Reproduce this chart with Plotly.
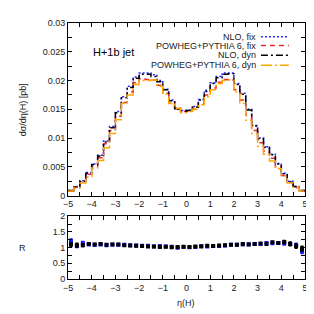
import plotly.graph_objects as go

# bin edges (0.25 wide) from -5 to 5
bin_lo = [-5.0 + 0.25 * i for i in range(40)]
bin_edges = bin_lo + [5.0]
bin_centers = [b + 0.125 for b in bin_lo]

nlo_fix = [0.0009, 0.0016, 0.0026, 0.0040, 0.0055, 0.0070, 0.0095, 0.0120, 0.0146, 0.0172,
           0.0190, 0.0206, 0.0213, 0.0213, 0.0210, 0.0200, 0.0185, 0.0166, 0.0152, 0.0148,
           0.0149, 0.0155, 0.0167, 0.0183, 0.0196, 0.0207, 0.0213, 0.0213, 0.0195, 0.0178,
           0.0150, 0.0122, 0.0100, 0.0085, 0.0072, 0.0056, 0.0039, 0.0025, 0.0016, 0.0009]
pow_fix = [0.0008, 0.0015, 0.0024, 0.0037, 0.0051, 0.0066, 0.0090, 0.0113, 0.0138, 0.0162,
           0.0180, 0.0196, 0.0203, 0.0202, 0.0201, 0.0192, 0.0178, 0.0161, 0.0150, 0.0146,
           0.0147, 0.0152, 0.0160, 0.0175, 0.0187, 0.0197, 0.0202, 0.0201, 0.0184, 0.0166,
           0.0140, 0.0113, 0.0092, 0.0077, 0.0065, 0.0050, 0.0035, 0.0022, 0.0014, 0.0008]
nlo_dyn = [0.0009, 0.0015, 0.0025, 0.0039, 0.0054, 0.0069, 0.0093, 0.0118, 0.0144, 0.0170,
           0.0188, 0.0204, 0.0211, 0.0211, 0.0207, 0.0198, 0.0184, 0.0165, 0.0151, 0.0147,
           0.0148, 0.0154, 0.0166, 0.0181, 0.0195, 0.0205, 0.0211, 0.0212, 0.0193, 0.0176,
           0.0149, 0.0121, 0.0099, 0.0084, 0.0071, 0.0055, 0.0038, 0.0024, 0.0016, 0.0009]
pow_dyn = [0.0008, 0.0013, 0.0022, 0.0033, 0.0048, 0.0061, 0.0083, 0.0108, 0.0132, 0.0160,
           0.0175, 0.0193, 0.0200, 0.0200, 0.0201, 0.0190, 0.0176, 0.0160, 0.0152, 0.0144,
           0.0146, 0.0150, 0.0158, 0.0172, 0.0184, 0.0195, 0.0200, 0.0201, 0.0180, 0.0160,
           0.0131, 0.0108, 0.0086, 0.0072, 0.0060, 0.0047, 0.0034, 0.0022, 0.0014, 0.0008]

ratio_fix = [1.22, 1.05, 1.15, 1.10, 1.09, 1.10, 1.08, 1.10, 1.09, 1.09,
             1.08, 1.07, 1.06, 1.06, 1.04, 1.05, 1.04, 1.03, 1.00, 1.02,
             1.01, 1.02, 1.05, 1.04, 1.05, 1.05, 1.07, 1.09, 1.09, 1.10,
             1.11, 1.12, 1.12, 1.15, 1.14, 1.15, 1.13, 1.12, 1.08, 0.88]
ratio_fix_err = [0.08, 0.07, 0.07, 0.05, 0.05, 0.04, 0.04, 0.04, 0.04, 0.04,
                 0.04, 0.04, 0.04, 0.04, 0.04, 0.04, 0.04, 0.04, 0.04, 0.04,
                 0.04, 0.04, 0.04, 0.04, 0.04, 0.04, 0.04, 0.04, 0.04, 0.04,
                 0.04, 0.04, 0.04, 0.05, 0.05, 0.06, 0.06, 0.07, 0.08, 0.09]
ratio_dyn = [1.10, 1.08, 1.08, 1.12, 1.10, 1.12, 1.09, 1.10, 1.10, 1.08,
             1.07, 1.06, 1.05, 1.04, 1.04, 1.02, 1.03, 1.01, 1.02, 1.03,
             1.02, 1.04, 1.04, 1.06, 1.05, 1.07, 1.08, 1.09, 1.09, 1.12,
             1.10, 1.12, 1.13, 1.12, 1.17, 1.15, 1.18, 1.12, 1.05, 0.97]
ratio_dyn_err = [0.09, 0.08, 0.07, 0.06, 0.05, 0.05, 0.05, 0.04, 0.04, 0.04,
                 0.04, 0.04, 0.04, 0.04, 0.04, 0.04, 0.04, 0.04, 0.04, 0.04,
                 0.04, 0.04, 0.04, 0.04, 0.04, 0.04, 0.04, 0.04, 0.04, 0.04,
                 0.04, 0.04, 0.05, 0.05, 0.05, 0.06, 0.07, 0.08, 0.09, 0.10]

series_names = ["NLO, fix", "POWHEG+PYTHIA 6, fix", "NLO, dyn", "POWHEG+PYTHIA 6, dyn"]
series_vals = [nlo_fix, pow_fix, nlo_dyn, pow_dyn]
colors = ["#2a2aff", "#ee2a2a", "#000000", "#ffa500"]
dashes = ["2px,2px", "5px,4px", "7px,3px,2px,3px", "11px,3px,2px,3px"]

FONT = "Liberation Sans, Arial, sans-serif"
fig = go.Figure()

for name, vals, c, d in zip(series_names, series_vals, colors, dashes):
    fig.add_trace(go.Scatter(x=bin_edges, y=vals + [vals[-1]], mode="lines",
                             line=dict(color=c, width=1.5, dash=d, shape="hv"),
                             name=name, showlegend=False, xaxis="x", yaxis="y"))

fig.add_trace(go.Scatter(x=bin_centers, y=ratio_fix, mode="markers",
                         marker=dict(symbol="square", size=4, color="#1a1aff"),
                         error_y=dict(type="data", array=ratio_fix_err, color="#1a1aff",
                                      thickness=3, width=0),
                         showlegend=False, xaxis="x2", yaxis="y2"))
fig.add_trace(go.Scatter(x=bin_centers, y=ratio_dyn, mode="markers",
                         marker=dict(symbol="square", size=4, color="#000000"),
                         error_y=dict(type="data", array=ratio_dyn_err, color="#000000",
                                      thickness=3, width=0),
                         showlegend=False, xaxis="x2", yaxis="y2"))

axis_common = dict(showline=True, linecolor="black", linewidth=1, mirror="allticks",
                   ticks="inside", ticklen=4, tickcolor="black", showgrid=False,
                   zeroline=False, tickfont=dict(family=FONT, size=9, color="#222"))

fig.update_layout(
    width=314, height=314,
    margin=dict(l=60, r=17, t=10, b=43),
    paper_bgcolor="white", plot_bgcolor="white",
    xaxis=dict(axis_common, domain=[0, 1], anchor="y", range=[-5, 5], dtick=1,
               tickvals=[-5, -4, -3, -2, -1, 0, 1, 2, 3, 4, 5],
               minor=dict(dtick=0.5, ticks="inside", ticklen=4, tickcolor="black")),
    yaxis=dict(axis_common, domain=[0.3257, 1], anchor="x", range=[0, 0.03],
               tickvals=[0, 0.005, 0.01, 0.015, 0.02, 0.025, 0.03],
               ticktext=["0", "0.005", "0.01", "0.015", "0.02", "0.025", "0.03"],
               minor=dict(dtick=0.0025, ticks="inside", ticklen=4, tickcolor="black")),
    xaxis2=dict(axis_common, domain=[0, 1], anchor="y2", range=[-5, 5],
                tickvals=[-5, -4, -3, -2, -1, 0, 1, 2, 3, 4, 5],
                minor=dict(dtick=0.5, ticks="inside", ticklen=4, tickcolor="black")),
    yaxis2=dict(axis_common, domain=[0, 0.245], anchor="x2", range=[0, 2],
                tickvals=[0, 0.5, 1, 1.5, 2], ticktext=["0", "0.5", "1", "1.5", "2"],
                minor=dict(dtick=0.25, ticks="inside", ticklen=4, tickcolor="black")),
)

ann = []
ann.append(dict(text="H+1b jet", x=0.097, y=0.885, xref="paper", yref="paper",
                xanchor="left", yanchor="middle", showarrow=False,
                font=dict(family=FONT, size=11, color="black")))
ann.append(dict(text="dσ/dη(H) [pb]", x=-0.19, y=0.663, xref="paper", yref="paper",
                textangle=-90, xanchor="center", yanchor="middle", showarrow=False,
                font=dict(family=FONT, size=9, color="#222")))
ann.append(dict(text="R", x=-0.19, y=0.1226, xref="paper", yref="paper",
                xanchor="center", yanchor="middle", showarrow=False,
                font=dict(family=FONT, size=9, color="#222")))
ann.append(dict(text="η(H)", x=0.498, y=-0.092, xref="paper", yref="paper",
                xanchor="center", yanchor="middle", showarrow=False,
                font=dict(family=FONT, size=9, color="#222")))

shapes = []
leg_y = [0.946, 0.912, 0.874, 0.835]
for name, c, d, ly in zip(series_names, colors, dashes, leg_y):
    ann.append(dict(text=name, x=0.802, y=ly, xref="paper", yref="paper",
                    xanchor="right", yanchor="middle", showarrow=False,
                    font=dict(family=FONT, size=9, color="#222")))
    shapes.append(dict(type="line", xref="paper", yref="paper", x0=0.814, x1=0.932,
                       y0=ly, y1=ly, line=dict(color=c, width=1.5, dash=d)))

fig.update_layout(annotations=ann, shapes=shapes)
fig.write_html("out.html")
